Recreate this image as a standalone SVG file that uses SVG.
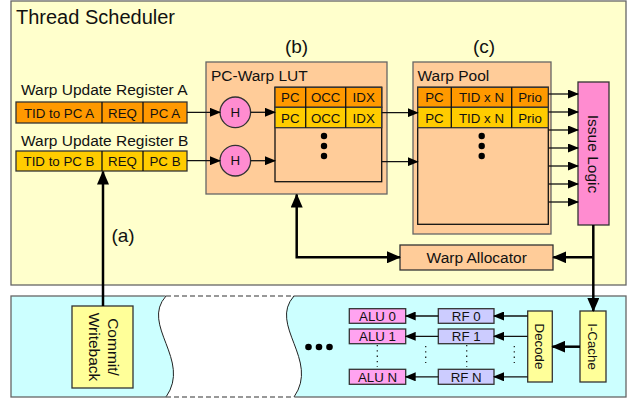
<svg xmlns="http://www.w3.org/2000/svg" width="629" height="400" viewBox="0 0 629 400">
<style>
text{font-family:"Liberation Sans",Arial,sans-serif;fill:#111}
.t20{font-size:20px}
.t15{font-size:15.5px}
.t13{font-size:13.3px}
.t19{font-size:19px}
.mid{text-anchor:middle}
.box{stroke:#333;stroke-width:1.3}
.outer{stroke:#666;stroke-width:1.3}
.thin{stroke:#111;stroke-width:1.3;fill:none}
.thick{stroke:#000;stroke-width:2.5;fill:none}
.or{fill:#FF9900}.go{fill:#FFCC00}.pe{fill:#FFCC99}.pk{fill:#FF8CD0}.ly{fill:#FFFF99}.rf{fill:#CCCCFF}.alu{fill:#FFA3F0}
.dot{stroke:#222;stroke-width:1.3;stroke-dasharray:1.3,4;fill:none}
</style>
<defs>
<marker id="a" markerUnits="userSpaceOnUse" markerWidth="11" markerHeight="9" refX="10" refY="4.5" orient="auto-start-reverse"><path d="M0,0 L11,4.5 L0,9 Z" fill="#000"/></marker>
<marker id="A" markerUnits="userSpaceOnUse" markerWidth="14" markerHeight="12" refX="13" refY="6" orient="auto-start-reverse"><path d="M0,0 L14,6 L0,12 Z" fill="#000"/></marker>
</defs>

<g id="thread-scheduler">
<rect x="11" y="1" width="615" height="284" fill="#FFFFCC" class="outer"/>
<text x="16" y="24" class="t20">Thread Scheduler</text>
<text x="296.5" y="53" class="t19 mid">(b)</text>
<text x="484" y="53" class="t19 mid">(c)</text>
<text x="123" y="242" class="t19 mid">(a)</text>
</g>

<g id="pipeline">
<rect x="11" y="296" width="615" height="101" fill="#CCFFFF" class="outer"/>
<path d="M166,295 C140,325 192,360 166,398 L294,398 C320,360 268,325 294,295 Z" fill="#fff"/>
<path d="M166,296 C140,325 192,360 166,397 M294,296 C268,325 320,360 294,397" stroke="#222" stroke-width="1" fill="none"/>
<path d="M166,296 H294 M166,397 H294" stroke="#777" stroke-width="1.3" stroke-dasharray="5,3" fill="none"/>
<circle cx="308.5" cy="347" r="3.3"/><circle cx="319" cy="347" r="3.3"/><circle cx="329.5" cy="347" r="3.3"/>
</g>

<g id="reg-a">
<text x="21" y="95" class="t15">Warp Update Register A</text>
<rect x="16" y="102" width="171" height="21" class="or box"/>
<path d="M102,102 V123 M143,102 V123" stroke="#111" stroke-width="1.3"/>
<text x="59" y="117.5" class="t13 mid">TID to PC A</text>
<text x="122.5" y="117.5" class="t13 mid">REQ</text>
<text x="165" y="117.5" class="t13 mid">PC A</text>
</g>

<g id="reg-b">
<text x="21" y="145.5" class="t15">Warp Update Register B</text>
<rect x="16" y="151" width="171" height="20" class="go box"/>
<path d="M102,151 V171 M143,151 V171" stroke="#111" stroke-width="1.3"/>
<text x="59" y="166" class="t13 mid">TID to PC B</text>
<text x="122.5" y="166" class="t13 mid">REQ</text>
<text x="165" y="166" class="t13 mid">PC B</text>
</g>

<g id="lut">
<rect x="206" y="62" width="181" height="132" class="pe outer"/>
<text x="211" y="81" class="t15">PC-Warp LUT</text>
<rect x="275" y="87.3" width="106.7" height="94.4" class="pe" stroke="#111" stroke-width="1.3"/>
<rect x="275" y="87.3" width="106.7" height="20" class="or box"/>
<rect x="275" y="107.3" width="106.7" height="20.4" class="go box"/>
<path d="M305.7,87.3 V127.7 M345.7,87.3 V127.7" stroke="#111" stroke-width="1.3"/>
<text x="290.3" y="102" class="t13 mid">PC</text>
<text x="325.7" y="102" class="t13 mid">OCC</text>
<text x="363.7" y="102" class="t13 mid">IDX</text>
<text x="290.3" y="122.5" class="t13 mid">PC</text>
<text x="325.7" y="122.5" class="t13 mid">OCC</text>
<text x="363.7" y="122.5" class="t13 mid">IDX</text>
<circle cx="324" cy="136" r="3.2"/><circle cx="324" cy="146" r="3.2"/><circle cx="324" cy="156" r="3.2"/>
</g>

<g id="hash-a">
<circle cx="235.3" cy="112.3" r="15.3" class="pk box"/>
<text x="235.3" y="117" class="t13 mid">H</text>
</g>
<g id="hash-b">
<circle cx="235.3" cy="160.7" r="15.3" class="pk box"/>
<text x="235.3" y="165.4" class="t13 mid">H</text>
</g>

<g id="warp-pool">
<rect x="413" y="62" width="138" height="172" class="pe outer"/>
<text x="417.5" y="81" class="t15">Warp Pool</text>
<rect x="417.7" y="87.3" width="130.6" height="137" class="pe" stroke="#111" stroke-width="1.3"/>
<rect x="417.7" y="87.3" width="130.6" height="20" class="or box"/>
<rect x="417.7" y="107.3" width="130.6" height="20.4" class="go box"/>
<path d="M451.3,87.3 V127.7 M511.7,87.3 V127.7" stroke="#111" stroke-width="1.3"/>
<text x="434.5" y="102" class="t13 mid">PC</text>
<text x="481.5" y="102" class="t13 mid">TID x N</text>
<text x="530" y="102" class="t13 mid">Prio</text>
<text x="434.5" y="122.5" class="t13 mid">PC</text>
<text x="481.5" y="122.5" class="t13 mid">TID x N</text>
<text x="530" y="122.5" class="t13 mid">Prio</text>
<circle cx="481.7" cy="136" r="3.2"/><circle cx="481.7" cy="146" r="3.2"/><circle cx="481.7" cy="156" r="3.2"/>
</g>

<g id="issue-logic">
<rect x="578" y="82" width="31" height="143" class="pk box"/>
<text transform="translate(593.5,154) rotate(90)" y="5.4" class="t15 mid">Issue Logic</text>
</g>

<g id="warp-allocator">
<rect x="400" y="245" width="153" height="25" class="pe box"/>
<text x="476.7" y="263" class="t15 mid">Warp Allocator</text>
</g>

<g id="commit-writeback">
<rect x="72" y="306" width="61" height="82" class="ly box"/>
<text transform="translate(103.5,347) rotate(90)" class="t15 mid"><tspan x="0" y="-4.1">Commit/</tspan><tspan x="0" y="14.4">Writeback</tspan></text>
</g>

<g id="i-cache">
<rect x="580" y="311" width="26" height="71" class="ly box"/>
<text transform="translate(593,346.5) rotate(90)" y="4.7" class="t13 mid">I-Cache</text>
</g>

<g id="decode">
<rect x="527.7" y="311" width="24.6" height="71" class="ly box"/>
<text transform="translate(540,346.5) rotate(90)" y="4.7" class="t13 mid">Decode</text>
</g>

<g id="rf-0"><rect x="438.3" y="308.7" width="55.7" height="14.6" class="rf box"/><text x="466.2" y="321" class="t13 mid">RF 0</text></g>
<g id="rf-1"><rect x="438.3" y="329" width="55.7" height="14.7" class="rf box"/><text x="466.2" y="341.3" class="t13 mid">RF 1</text></g>
<g id="rf-n"><rect x="438.3" y="369.3" width="55.7" height="15" class="rf box"/><text x="466.2" y="381.7" class="t13 mid">RF N</text></g>
<g id="alu-0"><rect x="349.3" y="308.7" width="56.4" height="14.6" class="alu box"/><text x="377.5" y="321" class="t13 mid">ALU 0</text></g>
<g id="alu-1"><rect x="349.3" y="329" width="56.4" height="14.7" class="alu box"/><text x="377.5" y="341.3" class="t13 mid">ALU 1</text></g>
<g id="alu-n"><rect x="349.3" y="369.3" width="56.4" height="15" class="alu box"/><text x="377.5" y="381.7" class="t13 mid">ALU N</text></g>

<g id="connectors">
<path class="thin" marker-end="url(#a)" d="M187,112.3 H220"/>
<path class="thin" marker-end="url(#a)" d="M250.6,112.3 H275"/>
<path class="thin" marker-end="url(#a)" d="M187,160.7 H220"/>
<path class="thin" marker-end="url(#a)" d="M250.6,160.7 H275"/>
<path class="thin" marker-end="url(#a)" d="M381.7,112.7 H417.7"/>
<path class="thin" marker-end="url(#a)" d="M381.7,161.7 H417.7"/>
<path class="thin" marker-end="url(#a)" d="M548.3,94 H578"/>
<path class="thin" marker-end="url(#a)" d="M548.3,112 H578"/>
<path class="thin" marker-end="url(#a)" d="M548.3,130 H578"/>
<path class="thin" marker-end="url(#a)" d="M548.3,148 H578"/>
<path class="thin" marker-end="url(#a)" d="M548.3,166 H578"/>
<path class="thin" marker-end="url(#a)" d="M548.3,184 H578"/>
<path class="thin" marker-end="url(#a)" d="M548.3,202 H578"/>
<path class="thick" marker-end="url(#A)" d="M593.3,225 V311"/>
<path class="thick" marker-end="url(#A)" d="M593.3,257.3 H553.3"/>
<path class="thick" marker-start="url(#A)" marker-end="url(#A)" d="M296.7,194.5 V257.3 H400"/>
<path class="thick" marker-end="url(#A)" d="M103,306 V171.5"/>
<path class="thick" marker-end="url(#A)" d="M580,346.7 H552.3"/>
<path class="thin" marker-end="url(#a)" d="M527.7,316 H494"/>
<path class="thin" marker-end="url(#a)" d="M527.7,336.3 H494"/>
<path class="thin" marker-end="url(#a)" d="M527.7,376.8 H494"/>
<path class="thin" marker-end="url(#a)" d="M438.3,316 H405.7"/>
<path class="thin" marker-end="url(#a)" d="M438.3,336.3 H405.7"/>
<path class="thin" marker-end="url(#a)" d="M438.3,376.8 H405.7"/>
<path class="dot" d="M377.3,345 V367 M425.7,346 V363 M466.7,345 V367 M514.3,346 V363"/>
</g>
</svg>
